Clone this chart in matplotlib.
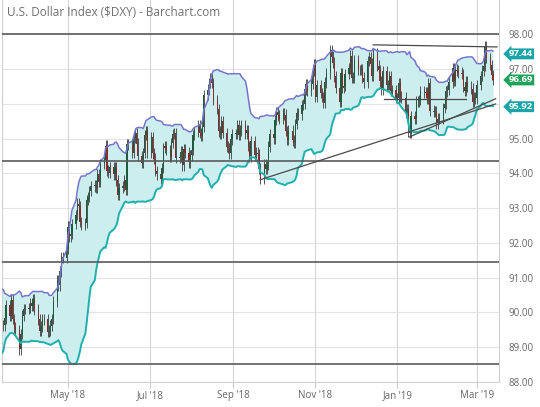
#!/usr/bin/env python3
"""
U.S. Dollar Index daily candles with 20-day Bollinger bands (Barchart style).

Output: out.png
"""
import pandas as pd
import matplotlib.pyplot as plt
import matplotlib.dates as mdates

plt.rcParams['font.family'] = ['Open Sans', 'DejaVu Sans']

# daily closes, one row per week (Mon..Fri), starting Mon 12 Feb 2018
closes = [
    90.37, 89.87, 89.12, 88.65, 89.07,
    89.10, 89.70, 90.13, 89.70, 89.86,
    89.67, 90.33, 90.60, 89.99, 89.95,
    90.10, 89.62, 89.63, 90.13, 90.11,
    89.92, 89.61, 89.63, 89.83, 90.21,
    89.91, 90.37, 89.82, 89.57, 89.50,
    88.94, 89.38, 89.91, 90.10, 90.10,
    90.13, 90.26, 90.18, 90.38, 90.08,
    89.80, 89.48, 89.60, 89.80, 89.82,
    89.44, 89.48, 89.62, 89.82, 90.31,
    90.94, 90.78, 91.18, 91.58, 91.57,
    91.84, 92.47, 92.19, 92.25, 92.55,
    92.80, 93.13, 93.05, 92.61, 92.51,
    92.58, 93.24, 93.33, 93.50, 93.63,
    93.67, 93.59, 93.99, 93.76, 94.27,
    94.39, 94.80, 94.08, 94.01, 94.18,
    93.97, 94.19, 93.80, 93.38, 93.58,
    93.64, 93.80, 93.52, 94.84, 94.82,
    94.60, 95.02, 95.17, 94.86, 94.50,
    94.30, 94.59, 95.10, 95.22, 94.60,
    95.05, 94.58, 94.43, 94.07, 93.97,
    93.85, 94.15, 94.74, 94.78, 94.67,
    94.47, 94.87, 95.14, 95.17, 94.44,
    94.48, 94.63, 94.23, 94.71, 94.60,
    94.32, 94.52, 94.67, 95.10, 95.19,
    95.38, 95.17, 95.08, 95.35, 96.25,
    96.41, 96.61, 96.73, 96.60, 96.12,
    95.85, 95.21, 95.15, 95.51, 95.16,
    94.77, 94.73, 94.58, 94.98, 95.14,
    95.14, 95.38, 95.10, 95.24, 95.38,
    95.15, 95.25, 94.79, 94.49, 94.93,
    94.52, 94.60, 94.55, 94.14, 93.84,
    94.26, 94.12, 94.24, 94.77, 95.13,
    95.01, 95.53, 95.77, 95.67, 95.57,
    95.74, 95.69, 95.22, 94.97, 95.23,
    94.95, 94.89, 95.43, 95.74, 95.70,
    95.97, 95.99, 96.42, 96.57, 96.38,
    96.58, 96.96, 97.13, 96.21, 96.54,
    96.32, 96.20, 96.02, 96.62, 96.88,
    97.54, 97.36, 97.19, 96.79, 96.47,
    96.05, 96.89, 96.46, 96.51, 96.86,
    97.02, 97.39, 96.75, 96.76, 97.27,
    96.97, 96.98, 97.00, 96.76, 96.62,
    97.24, 97.35, 97.16, 96.80, 97.45,
    97.10, 96.98, 96.65, 96.41, 96.94,
    96.55, 96.55, 96.81, 96.38, 96.40,
    96.17, 96.17, 96.60, 96.21, 96.18,
    95.74, 95.86, 95.21, 95.16, 95.66,
    95.57, 96.07, 96.07, 96.11, 96.36,
    96.31, 96.34, 96.16, 96.61, 95.81,
    95.77, 95.78, 95.44, 95.58, 95.58,
    95.88, 96.01, 96.36, 96.40, 96.62,
    97.03, 96.67, 96.99, 96.96, 96.90,
    96.86, 96.48, 96.37, 96.64, 96.50,
    96.44, 96.05, 96.19, 96.16, 96.55,
    96.81, 96.96, 97.10, 97.66, 97.32,
    97.12, 96.84, 96.69,
]

month_ticks = ['2018-05-01', '2018-07-01', '2018-09-01', '2018-11-01', '2019-01-01', '2019-03-01']
month_labels = ["May '18", "Jul '18", "Sep '18", "Nov '18", "Jan '19", "Mar '19"]
y_ticks = [88, 89, 90, 91, 92, 93, 94, 95, 96, 97, 98]

# drawn support / resistance levels
h_levels = [98.0, 94.37, 91.44, 88.52]
seg_starts = ['2018-12-14', '2018-12-22', '2018-09-21', '2019-01-10']
seg_ends = ['2019-03-16', '2019-02-21', '2019-03-15', '2019-03-15']
seg_p0 = [97.70, 96.14, 93.82, 95.05]
seg_p1 = [97.64, 96.14, 96.00, 96.15]

# right-edge value flags
flag_values = [97.44, 96.69, 95.92]
flag_colors = ['#1ba4a8', '#1fa35a', '#1ba4a8']

dates = pd.bdate_range('2018-02-12', periods=len(closes))
df = pd.DataFrame({'close': closes}, index=dates)
df['open'] = df['close'].shift(1).fillna(df['close'])
mid = df['close'].rolling(20).mean()
sd = df['close'].rolling(20).std(ddof=0)
df['upper'] = mid + 2 * sd
df['lower'] = mid - 2 * sd

fig = plt.figure(figsize=(5.4, 4.07), dpi=100)
ax = fig.add_axes([2 / 540, 25 / 407, 497 / 540, 382 / 407])

x = mdates.date2num(df.index.to_pydatetime())

# grid
for y in y_ticks:
    ax.axhline(y, color='#e4e4e4', lw=0.8, zorder=0.5)
for t in month_ticks:
    ax.axvline(mdates.datestr2num(t), color='#d6d6d6', lw=0.8, zorder=0.5)

# bands
ax.fill_between(x, df['lower'], df['upper'], color='#cdeeee', lw=0, zorder=1)
ax.plot(x, df['upper'], color='#7676cc', lw=1.1, zorder=3)
ax.plot(x, df['lower'], color='#1fb0ae', lw=1.4, zorder=3)

# candles
wick = 0.15
hi = df[['open', 'close']].max(axis=1) + wick
lo = df[['open', 'close']].min(axis=1) - wick
up = df['close'] >= df['open']
colors = ['#1e5a3c' if u else '#8a2a2a' for u in up]
ax.vlines(x, lo, hi, color='#3a3a3a', lw=0.6, zorder=2.4)
body = (df['close'] - df['open']).abs().clip(lower=0.02)
ax.bar(x, body, bottom=df[['open', 'close']].min(axis=1), width=0.9,
       color=colors, lw=0, zorder=2.5)

# drawn lines
for lv in h_levels:
    ax.axhline(lv, color='#5a5a5a', lw=1.2, zorder=4)
for s, e, p0, p1 in zip(seg_starts, seg_ends, seg_p0, seg_p1):
    ax.plot([mdates.datestr2num(s), mdates.datestr2num(e)], [p0, p1],
            color='#4a4a4a', lw=0.9, zorder=4)

ax.set_xlim(mdates.datestr2num('2018-03-13'), mdates.datestr2num('2019-03-17 12:00'))
ax.set_ylim(88, 98.99)

ax.set_xticks([mdates.datestr2num(t) for t in month_ticks])
ax.set_xticklabels(month_labels)
ax.yaxis.tick_right()
ax.set_yticks(y_ticks)
ax.set_yticklabels(['' if v == 96 else f'{v:.2f}' for v in y_ticks])
ax.tick_params(axis='x', length=4, color='#cccccc', labelsize=7, labelcolor='#666666', pad=2)
ax.tick_params(axis='y', length=0, labelsize=7, labelcolor='#666666', pad=7)

for side in ['left', 'right', 'bottom']:
    ax.spines[side].set_color('#d0d0d0')
    ax.spines[side].set_linewidth(0.8)
ax.spines['top'].set_visible(False)

ax.text(0.01, 0.985, 'U.S. Dollar Index (\\$DXY) - Barchart.com', transform=ax.transAxes,
        ha='left', va='top', fontsize=8.5, color='#707070')

for v, c in zip(flag_values, flag_colors):
    ax.text(1.02, v, f'{v:.2f}', transform=ax.get_yaxis_transform(), ha='left', va='center',
            fontsize=6.8, fontweight='bold', color='white', clip_on=False, zorder=6,
            bbox=dict(boxstyle='larrow,pad=0.1', fc=c, ec='none'))

fig.savefig('out.png', dpi=100)
